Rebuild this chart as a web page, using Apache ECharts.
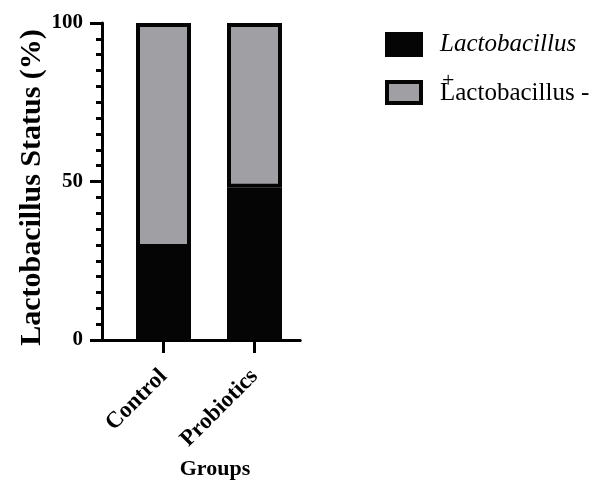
<!DOCTYPE html>
<html>
<head>
<meta charset="utf-8">
<script src="https://cdn.jsdelivr.net/npm/echarts@6/dist/echarts.min.js"></script>
<style>html,body{margin:0;padding:0;background:#fff;}#c{width:593px;height:483px;}</style>
</head>
<body>
<div id="c"></div>
<script>
const categories = ['Control', 'Probiotics'];
const lactoPositive = [29, 48];
const lactoNegative = [71, 52];
const seriesNames = ['Lactobacillus', 'Lactobacillus -'];
const yTicks = [0, 50, 100];

const serif = '"Liberation Serif", "DejaVu Serif", serif';
const chart = echarts.init(document.getElementById('c'));
chart.setOption({
  animation: false,
  backgroundColor: '#ffffff',
  grid: [
    {left: 118, width: 182, top: 23, bottom: 143, containLabel: false, outerBoundsMode: 'none'},
    {left: 102, width: 198, top: 23, bottom: 143, containLabel: false, outerBoundsMode: 'none'}
  ],
  legend: {
    orient: 'vertical',
    left: 380,
    top: 27,
    icon: 'rect',
    itemWidth: 34,
    itemHeight: 21,
    itemGap: 10,
    itemStyle: {borderWidth: 4, borderColor: '#050505'},
    data: seriesNames,
    formatter: function (name) {
      if (name === seriesNames[0]) return '{it|' + name + '}';
      return '{plus|+}\n{n|' + name + '}';
    },
    textStyle: {
      fontFamily: serif,
      fontSize: 24,
      color: '#000',
      padding: [0, 0, 0, 14],
      rich: {
        it: {fontStyle: 'italic', fontSize: 25, fontFamily: serif, color: '#000', lineHeight: 26},
        plus: {fontSize: 22, fontFamily: serif, color: '#000', lineHeight: 2, padding: [3, 0, 0, 2]},
        n: {fontSize: 25, fontFamily: serif, color: '#000', lineHeight: 26}
      }
    }
  },
  xAxis: [
    {
      type: 'category',
      gridIndex: 0,
      data: categories,
      name: 'Groups',
      nameLocation: 'middle',
      nameGap: 113,
      nameTextStyle: {fontFamily: serif, fontWeight: 'bold', fontSize: 22, color: '#000', padding: [0, 0, 0, 12]},
      axisLine: {show: true, lineStyle: {color: '#000', width: 3}},
      axisTick: {show: true, alignWithLabel: true, length: 13, lineStyle: {color: '#000', width: 3}},
      axisLabel: {rotate: 45, margin: 33, fontFamily: serif, fontWeight: 'bold', fontSize: 23, color: '#000', interval: 0},
      splitLine: {show: false}
    },
    {
      type: 'value',
      gridIndex: 1,
      min: 0, max: 1,
      axisLine: {show: true, onZero: false, lineStyle: {color: '#000', width: 3}},
      axisTick: {show: false},
      axisLabel: {show: false},
      splitLine: {show: false}
    }
  ],
  yAxis: [
    {
      type: 'value',
      gridIndex: 0,
      min: yTicks[0],
      max: yTicks[yTicks.length - 1],
      interval: 50,
      offset: 16,
      name: 'Lactobacillus Status (%)',
      nameLocation: 'middle',
      nameGap: 55,
      nameTextStyle: {fontFamily: serif, fontWeight: 'bold', fontSize: 30, color: '#000', padding: [0, 12, 0, 0]},
      axisLine: {show: true, lineStyle: {color: '#000', width: 3}},
      axisTick: {show: true, length: 12, lineStyle: {color: '#000', width: 3}},
      minorTick: {show: true, splitNumber: 10, length: 6, lineStyle: {color: '#000', width: 3}},
      axisLabel: {margin: 19, fontFamily: serif, fontWeight: 'bold', fontSize: 21, color: '#000'},
      splitLine: {show: false},
      minorSplitLine: {show: false}
    },
    {
      type: 'value',
      gridIndex: 1,
      show: false,
      min: 0, max: 1
    }
  ],
  series: [
    {
      name: seriesNames[0],
      type: 'bar',
      stack: 'total',
      xAxisIndex: 0, yAxisIndex: 0,
      barWidth: 55,
      data: lactoPositive,
      itemStyle: {color: '#050505', borderColor: '#050505', borderWidth: 4}
    },
    {
      name: seriesNames[1],
      type: 'bar',
      stack: 'total',
      xAxisIndex: 0, yAxisIndex: 0,
      barWidth: 55,
      data: lactoNegative,
      itemStyle: {color: '#a0a0a4', borderColor: '#050505', borderWidth: 4}
    }
  ]
});
</script>
</body>
</html>
